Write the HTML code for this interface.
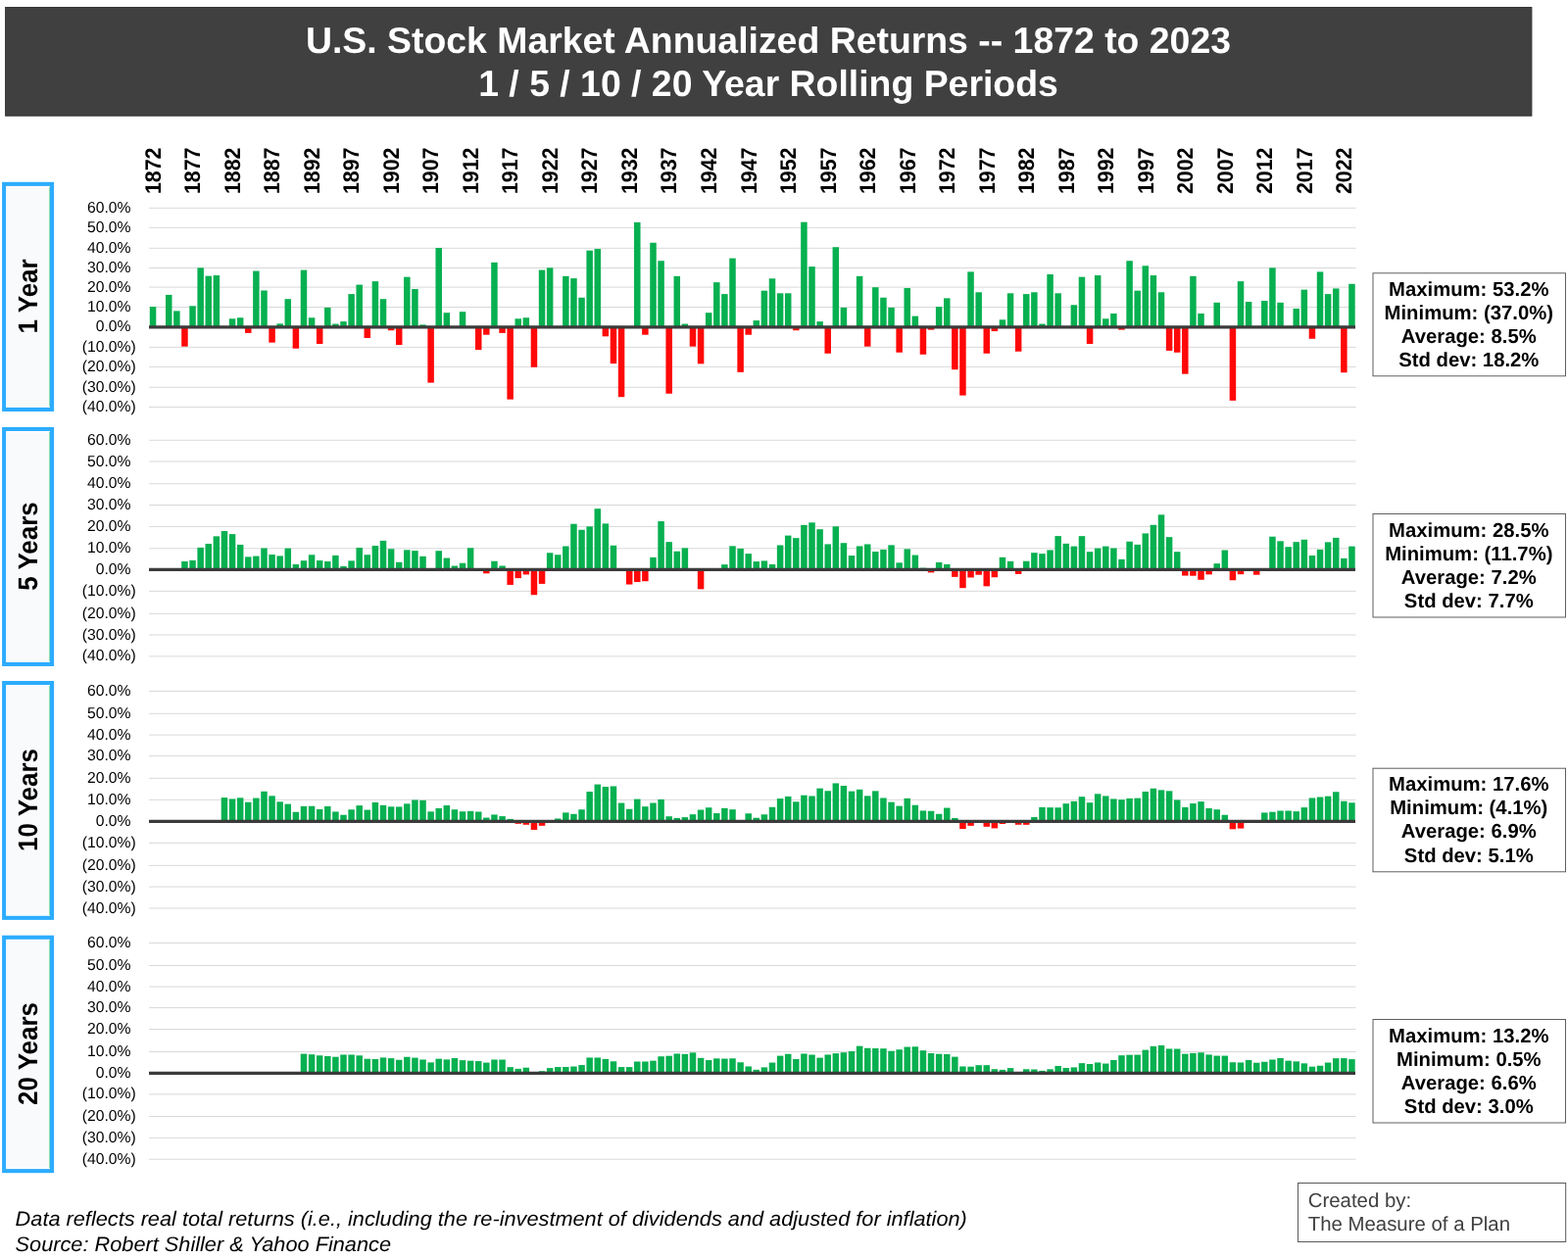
<!DOCTYPE html>
<html lang="en"><head><meta charset="utf-8"><title>U.S. Stock Market Annualized Returns -- 1872 to 2023</title>
<style>
html,body{margin:0;padding:0;background:#fff;}
body{width:1600px;height:1284px;overflow:hidden;}
svg{display:block;font-family:"Liberation Sans",Arial,Helvetica,sans-serif;text-rendering:geometricPrecision;}
.t{font-weight:bold;font-size:37.4px;fill:#fff;text-anchor:middle;}
.yr{font-weight:bold;font-size:21.4px;fill:#000;}
.yl{font-size:15.8px;fill:#000;text-anchor:end;}
.pl{font-weight:bold;font-size:25.95px;fill:#000;text-anchor:middle;}
.st{font-weight:bold;font-size:20.3px;fill:#000;text-anchor:middle;}
.ft{font-style:italic;font-size:20.95px;fill:#000;}
.cb{font-size:20.4px;fill:#404040;}
.g{stroke:#d9d9d9;stroke-width:1;}
.z{stroke:#3b3b3b;stroke-width:3.3;}
.up{fill:#07b050;}
.dn{fill:#ff0808;}
</style></head><body>
<svg width="1600" height="1284" viewBox="0 0 1600 1284">
<rect x="5.6" y="7.5" width="1557.3" height="110.7" fill="#404040" stroke="#353535" stroke-width="1"/>
<text class="t" x="784" y="53.6">U.S. Stock Market Annualized Returns -- 1872 to 2023</text>
<text class="t" x="784" y="98.1">1 / 5 / 10 / 20 Year Rolling Periods</text>
<text class="yr" transform="translate(163.85 198.1) rotate(-90) scale(1 1.06)">1872</text>
<text class="yr" transform="translate(204.36 198.1) rotate(-90) scale(1 1.06)">1877</text>
<text class="yr" transform="translate(244.87 198.1) rotate(-90) scale(1 1.06)">1882</text>
<text class="yr" transform="translate(285.38 198.1) rotate(-90) scale(1 1.06)">1887</text>
<text class="yr" transform="translate(325.89 198.1) rotate(-90) scale(1 1.06)">1892</text>
<text class="yr" transform="translate(366.40 198.1) rotate(-90) scale(1 1.06)">1897</text>
<text class="yr" transform="translate(406.91 198.1) rotate(-90) scale(1 1.06)">1902</text>
<text class="yr" transform="translate(447.42 198.1) rotate(-90) scale(1 1.06)">1907</text>
<text class="yr" transform="translate(487.93 198.1) rotate(-90) scale(1 1.06)">1912</text>
<text class="yr" transform="translate(528.44 198.1) rotate(-90) scale(1 1.06)">1917</text>
<text class="yr" transform="translate(568.95 198.1) rotate(-90) scale(1 1.06)">1922</text>
<text class="yr" transform="translate(609.46 198.1) rotate(-90) scale(1 1.06)">1927</text>
<text class="yr" transform="translate(649.97 198.1) rotate(-90) scale(1 1.06)">1932</text>
<text class="yr" transform="translate(690.48 198.1) rotate(-90) scale(1 1.06)">1937</text>
<text class="yr" transform="translate(730.99 198.1) rotate(-90) scale(1 1.06)">1942</text>
<text class="yr" transform="translate(771.50 198.1) rotate(-90) scale(1 1.06)">1947</text>
<text class="yr" transform="translate(812.01 198.1) rotate(-90) scale(1 1.06)">1952</text>
<text class="yr" transform="translate(852.52 198.1) rotate(-90) scale(1 1.06)">1957</text>
<text class="yr" transform="translate(893.03 198.1) rotate(-90) scale(1 1.06)">1962</text>
<text class="yr" transform="translate(933.54 198.1) rotate(-90) scale(1 1.06)">1967</text>
<text class="yr" transform="translate(974.05 198.1) rotate(-90) scale(1 1.06)">1972</text>
<text class="yr" transform="translate(1014.56 198.1) rotate(-90) scale(1 1.06)">1977</text>
<text class="yr" transform="translate(1055.07 198.1) rotate(-90) scale(1 1.06)">1982</text>
<text class="yr" transform="translate(1095.58 198.1) rotate(-90) scale(1 1.06)">1987</text>
<text class="yr" transform="translate(1136.09 198.1) rotate(-90) scale(1 1.06)">1992</text>
<text class="yr" transform="translate(1176.60 198.1) rotate(-90) scale(1 1.06)">1997</text>
<text class="yr" transform="translate(1217.11 198.1) rotate(-90) scale(1 1.06)">2002</text>
<text class="yr" transform="translate(1257.62 198.1) rotate(-90) scale(1 1.06)">2007</text>
<text class="yr" transform="translate(1298.13 198.1) rotate(-90) scale(1 1.06)">2012</text>
<text class="yr" transform="translate(1338.64 198.1) rotate(-90) scale(1 1.06)">2017</text>
<text class="yr" transform="translate(1379.15 198.1) rotate(-90) scale(1 1.06)">2022</text>
<rect x="2.1" y="185.8" width="53" height="234.2" fill="#2cacff"/>
<rect x="6.1" y="189.9" width="44.9" height="226.0" fill="#fff"/>
<rect x="49.9" y="190.8" width="1.1" height="224.2" fill="#8fdcae"/>
<rect x="7" y="191.0" width="41.8" height="224.0" fill="#f9fafc"/>
<text class="pl" transform="translate(38.2 302.4) rotate(-90) scale(1 1.07)">1 Year</text>
<line class="g" x1="152.0" x2="1383.5" y1="212.3" y2="212.3"/>
<text class="yl" transform="translate(133.45 216.80) scale(0.993 1)">60.0%</text>
<line class="g" x1="152.0" x2="1383.5" y1="232.3" y2="232.3"/>
<text class="yl" transform="translate(133.45 236.80) scale(0.993 1)">50.0%</text>
<line class="g" x1="152.0" x2="1383.5" y1="253.3" y2="253.3"/>
<text class="yl" transform="translate(133.45 257.80) scale(0.993 1)">40.0%</text>
<line class="g" x1="152.0" x2="1383.5" y1="273.5" y2="273.5"/>
<text class="yl" transform="translate(133.45 278.00) scale(0.993 1)">30.0%</text>
<line class="g" x1="152.0" x2="1383.5" y1="293.1" y2="293.1"/>
<text class="yl" transform="translate(133.45 297.60) scale(0.993 1)">20.0%</text>
<line class="g" x1="152.0" x2="1383.5" y1="313.5" y2="313.5"/>
<text class="yl" transform="translate(133.45 318.00) scale(0.993 1)">10.0%</text>
<text class="yl" transform="translate(133.45 338.30) scale(0.993 1)">0.0%</text>
<line class="g" x1="152.0" x2="1383.5" y1="354.4" y2="354.4"/>
<text class="yl" transform="translate(138.7 358.90) scale(0.993 1)">(10.0%)</text>
<line class="g" x1="152.0" x2="1383.5" y1="374.4" y2="374.4"/>
<text class="yl" transform="translate(138.7 378.90) scale(0.993 1)">(20.0%)</text>
<line class="g" x1="152.0" x2="1383.5" y1="395.3" y2="395.3"/>
<text class="yl" transform="translate(138.7 399.80) scale(0.993 1)">(30.0%)</text>
<line class="g" x1="152.0" x2="1383.5" y1="415.5" y2="415.5"/>
<text class="yl" transform="translate(138.7 420.00) scale(0.993 1)">(40.0%)</text>
<rect class="up" x="152.80" y="313.10" width="6.5" height="20.70"/>
<rect class="up" x="169.00" y="300.93" width="6.5" height="32.87"/>
<rect class="up" x="177.11" y="317.37" width="6.5" height="16.43"/>
<rect class="dn" x="185.21" y="333.80" width="6.5" height="19.88"/>
<rect class="up" x="193.31" y="312.29" width="6.5" height="21.51"/>
<rect class="up" x="201.41" y="273.34" width="6.5" height="60.46"/>
<rect class="up" x="209.51" y="281.65" width="6.5" height="52.15"/>
<rect class="up" x="217.62" y="281.05" width="6.5" height="52.75"/>
<rect class="up" x="233.82" y="325.28" width="6.5" height="8.52"/>
<rect class="up" x="241.92" y="324.26" width="6.5" height="9.54"/>
<rect class="dn" x="250.02" y="333.80" width="6.5" height="6.09"/>
<rect class="up" x="258.13" y="276.58" width="6.5" height="57.22"/>
<rect class="up" x="266.23" y="296.47" width="6.5" height="37.33"/>
<rect class="dn" x="274.33" y="333.80" width="6.5" height="15.83"/>
<rect class="up" x="282.43" y="330.35" width="6.5" height="3.45"/>
<rect class="up" x="290.53" y="305.19" width="6.5" height="28.61"/>
<rect class="dn" x="298.64" y="333.80" width="6.5" height="21.91"/>
<rect class="up" x="306.74" y="275.57" width="6.5" height="58.23"/>
<rect class="up" x="314.84" y="324.26" width="6.5" height="9.54"/>
<rect class="dn" x="322.94" y="333.80" width="6.5" height="17.25"/>
<rect class="up" x="331.04" y="313.92" width="6.5" height="19.88"/>
<rect class="up" x="339.15" y="330.55" width="6.5" height="3.25"/>
<rect class="up" x="347.25" y="328.12" width="6.5" height="5.68"/>
<rect class="up" x="355.35" y="300.12" width="6.5" height="33.68"/>
<rect class="up" x="363.45" y="290.58" width="6.5" height="43.22"/>
<rect class="dn" x="371.55" y="333.80" width="6.5" height="11.16"/>
<rect class="up" x="379.66" y="287.13" width="6.5" height="46.67"/>
<rect class="up" x="387.76" y="305.19" width="6.5" height="28.61"/>
<rect class="dn" x="395.86" y="333.80" width="6.5" height="3.45"/>
<rect class="dn" x="403.96" y="333.80" width="6.5" height="18.26"/>
<rect class="up" x="412.06" y="282.67" width="6.5" height="51.13"/>
<rect class="up" x="420.17" y="295.05" width="6.5" height="38.75"/>
<rect class="up" x="428.27" y="331.37" width="6.5" height="2.43"/>
<rect class="dn" x="436.37" y="333.80" width="6.5" height="56.81"/>
<rect class="up" x="444.47" y="253.05" width="6.5" height="80.75"/>
<rect class="up" x="452.57" y="319.19" width="6.5" height="14.61"/>
<rect class="up" x="468.78" y="318.18" width="6.5" height="15.62"/>
<rect class="dn" x="484.98" y="333.80" width="6.5" height="23.33"/>
<rect class="dn" x="493.08" y="333.80" width="6.5" height="7.91"/>
<rect class="up" x="501.19" y="267.86" width="6.5" height="65.94"/>
<rect class="dn" x="509.29" y="333.80" width="6.5" height="6.09"/>
<rect class="dn" x="517.39" y="333.80" width="6.5" height="73.86"/>
<rect class="up" x="525.49" y="325.28" width="6.5" height="8.52"/>
<rect class="up" x="533.59" y="324.26" width="6.5" height="9.54"/>
<rect class="dn" x="541.70" y="333.80" width="6.5" height="40.99"/>
<rect class="up" x="549.80" y="275.57" width="6.5" height="58.23"/>
<rect class="up" x="557.90" y="273.34" width="6.5" height="60.46"/>
<rect class="up" x="574.10" y="281.86" width="6.5" height="51.94"/>
<rect class="up" x="582.21" y="284.09" width="6.5" height="49.71"/>
<rect class="up" x="590.31" y="303.77" width="6.5" height="30.03"/>
<rect class="up" x="598.41" y="255.68" width="6.5" height="78.12"/>
<rect class="up" x="606.51" y="254.06" width="6.5" height="79.74"/>
<rect class="dn" x="614.61" y="333.80" width="6.5" height="9.54"/>
<rect class="dn" x="622.72" y="333.80" width="6.5" height="37.33"/>
<rect class="dn" x="630.82" y="333.80" width="6.5" height="71.42"/>
<rect class="up" x="647.02" y="226.87" width="6.5" height="106.93"/>
<rect class="dn" x="655.12" y="333.80" width="6.5" height="7.91"/>
<rect class="up" x="663.23" y="247.77" width="6.5" height="86.03"/>
<rect class="up" x="671.33" y="266.23" width="6.5" height="67.57"/>
<rect class="dn" x="679.43" y="333.80" width="6.5" height="67.97"/>
<rect class="up" x="687.53" y="281.86" width="6.5" height="51.94"/>
<rect class="up" x="695.63" y="330.55" width="6.5" height="3.25"/>
<rect class="dn" x="703.74" y="333.80" width="6.5" height="19.88"/>
<rect class="dn" x="711.84" y="333.80" width="6.5" height="37.54"/>
<rect class="up" x="719.94" y="319.19" width="6.5" height="14.61"/>
<rect class="up" x="728.04" y="288.15" width="6.5" height="45.65"/>
<rect class="up" x="736.14" y="300.12" width="6.5" height="33.68"/>
<rect class="up" x="744.25" y="263.60" width="6.5" height="70.20"/>
<rect class="dn" x="752.35" y="333.80" width="6.5" height="46.06"/>
<rect class="dn" x="760.45" y="333.80" width="6.5" height="7.91"/>
<rect class="up" x="768.55" y="327.10" width="6.5" height="6.70"/>
<rect class="up" x="776.65" y="296.67" width="6.5" height="37.13"/>
<rect class="up" x="784.75" y="284.29" width="6.5" height="49.51"/>
<rect class="up" x="792.86" y="299.31" width="6.5" height="34.49"/>
<rect class="up" x="800.96" y="299.31" width="6.5" height="34.49"/>
<rect class="dn" x="809.06" y="333.80" width="6.5" height="3.45"/>
<rect class="up" x="817.16" y="226.67" width="6.5" height="107.13"/>
<rect class="up" x="825.26" y="272.12" width="6.5" height="61.68"/>
<rect class="up" x="833.37" y="328.12" width="6.5" height="5.68"/>
<rect class="dn" x="841.47" y="333.80" width="6.5" height="26.99"/>
<rect class="up" x="849.57" y="252.23" width="6.5" height="81.57"/>
<rect class="up" x="857.67" y="313.92" width="6.5" height="19.88"/>
<rect class="up" x="873.88" y="281.86" width="6.5" height="51.94"/>
<rect class="dn" x="881.98" y="333.80" width="6.5" height="19.88"/>
<rect class="up" x="890.08" y="293.22" width="6.5" height="40.58"/>
<rect class="up" x="898.18" y="303.77" width="6.5" height="30.03"/>
<rect class="up" x="906.28" y="313.92" width="6.5" height="19.88"/>
<rect class="dn" x="914.39" y="333.80" width="6.5" height="25.97"/>
<rect class="up" x="922.49" y="294.03" width="6.5" height="39.77"/>
<rect class="up" x="930.59" y="322.64" width="6.5" height="11.16"/>
<rect class="dn" x="938.69" y="333.80" width="6.5" height="28.00"/>
<rect class="dn" x="946.79" y="333.80" width="6.5" height="2.84"/>
<rect class="up" x="954.90" y="313.10" width="6.5" height="20.70"/>
<rect class="up" x="963.00" y="304.38" width="6.5" height="29.42"/>
<rect class="dn" x="971.10" y="333.80" width="6.5" height="43.42"/>
<rect class="dn" x="979.20" y="333.80" width="6.5" height="69.80"/>
<rect class="up" x="987.30" y="277.39" width="6.5" height="56.41"/>
<rect class="up" x="995.41" y="298.29" width="6.5" height="35.51"/>
<rect class="dn" x="1003.51" y="333.80" width="6.5" height="26.99"/>
<rect class="dn" x="1011.61" y="333.80" width="6.5" height="4.26"/>
<rect class="up" x="1019.71" y="326.29" width="6.5" height="7.51"/>
<rect class="up" x="1027.81" y="299.31" width="6.5" height="34.49"/>
<rect class="dn" x="1035.92" y="333.80" width="6.5" height="24.96"/>
<rect class="up" x="1044.02" y="300.12" width="6.5" height="33.68"/>
<rect class="up" x="1052.12" y="298.29" width="6.5" height="35.51"/>
<rect class="up" x="1060.22" y="330.55" width="6.5" height="3.25"/>
<rect class="up" x="1068.32" y="280.03" width="6.5" height="53.77"/>
<rect class="up" x="1076.43" y="299.31" width="6.5" height="34.49"/>
<rect class="up" x="1092.63" y="311.28" width="6.5" height="22.52"/>
<rect class="up" x="1100.73" y="282.67" width="6.5" height="51.13"/>
<rect class="dn" x="1108.83" y="333.80" width="6.5" height="17.25"/>
<rect class="up" x="1116.94" y="281.05" width="6.5" height="52.75"/>
<rect class="up" x="1125.04" y="325.28" width="6.5" height="8.52"/>
<rect class="up" x="1133.14" y="320.00" width="6.5" height="13.80"/>
<rect class="dn" x="1141.24" y="333.80" width="6.5" height="2.84"/>
<rect class="up" x="1149.34" y="266.23" width="6.5" height="67.57"/>
<rect class="up" x="1157.45" y="296.67" width="6.5" height="37.13"/>
<rect class="up" x="1165.55" y="271.31" width="6.5" height="62.49"/>
<rect class="up" x="1173.65" y="281.05" width="6.5" height="52.75"/>
<rect class="up" x="1181.75" y="298.29" width="6.5" height="35.51"/>
<rect class="dn" x="1189.85" y="333.80" width="6.5" height="24.15"/>
<rect class="dn" x="1197.96" y="333.80" width="6.5" height="25.97"/>
<rect class="dn" x="1206.06" y="333.80" width="6.5" height="47.88"/>
<rect class="up" x="1214.16" y="281.86" width="6.5" height="51.94"/>
<rect class="up" x="1222.26" y="320.00" width="6.5" height="13.80"/>
<rect class="up" x="1238.47" y="308.84" width="6.5" height="24.96"/>
<rect class="dn" x="1254.67" y="333.80" width="6.5" height="75.07"/>
<rect class="up" x="1262.77" y="287.13" width="6.5" height="46.67"/>
<rect class="up" x="1270.87" y="308.03" width="6.5" height="25.77"/>
<rect class="up" x="1287.08" y="307.02" width="6.5" height="26.78"/>
<rect class="up" x="1295.18" y="273.34" width="6.5" height="60.46"/>
<rect class="up" x="1303.28" y="308.84" width="6.5" height="24.96"/>
<rect class="up" x="1319.49" y="314.93" width="6.5" height="18.87"/>
<rect class="up" x="1327.59" y="295.65" width="6.5" height="38.15"/>
<rect class="dn" x="1335.69" y="333.80" width="6.5" height="11.97"/>
<rect class="up" x="1343.79" y="277.39" width="6.5" height="56.41"/>
<rect class="up" x="1351.89" y="300.12" width="6.5" height="33.68"/>
<rect class="up" x="1360.00" y="294.44" width="6.5" height="39.36"/>
<rect class="dn" x="1368.10" y="333.80" width="6.5" height="46.46"/>
<rect class="up" x="1376.20" y="289.77" width="6.5" height="44.03"/>
<line class="z" x1="152.0" x2="1383.0" y1="333.80" y2="333.80"/>
<rect x="1401" y="278.8" width="196.5" height="105.0" fill="#fff" stroke="#5f5f5f" stroke-width="1"/>
<text class="st" x="1498.8" y="301.7">Maximum: 53.2%</text>
<text class="st" x="1498.8" y="325.8">Minimum: (37.0%)</text>
<text class="st" x="1498.8" y="349.9">Average: 8.5%</text>
<text class="st" x="1498.8" y="374.0">Std dev: 18.2%</text>
<rect x="2.1" y="435.9" width="53" height="244.1" fill="#2cacff"/>
<rect x="6.1" y="440.0" width="44.9" height="235.9" fill="#fff"/>
<rect x="49.9" y="440.9" width="1.1" height="234.1" fill="#8fdcae"/>
<rect x="7" y="441.1" width="41.8" height="233.9" fill="#f9fafc"/>
<text class="pl" transform="translate(38.2 557.5) rotate(-90) scale(1 1.07)">5 Years</text>
<line class="g" x1="152.0" x2="1383.5" y1="449.3" y2="449.3"/>
<text class="yl" transform="translate(133.45 453.80) scale(0.993 1)">60.0%</text>
<line class="g" x1="152.0" x2="1383.5" y1="471.0" y2="471.0"/>
<text class="yl" transform="translate(133.45 475.50) scale(0.993 1)">50.0%</text>
<line class="g" x1="152.0" x2="1383.5" y1="493.8" y2="493.8"/>
<text class="yl" transform="translate(133.45 498.30) scale(0.993 1)">40.0%</text>
<line class="g" x1="152.0" x2="1383.5" y1="515.5" y2="515.5"/>
<text class="yl" transform="translate(133.45 520.00) scale(0.993 1)">30.0%</text>
<line class="g" x1="152.0" x2="1383.5" y1="537.4" y2="537.4"/>
<text class="yl" transform="translate(133.45 541.90) scale(0.993 1)">20.0%</text>
<line class="g" x1="152.0" x2="1383.5" y1="559.8" y2="559.8"/>
<text class="yl" transform="translate(133.45 564.30) scale(0.993 1)">10.0%</text>
<text class="yl" transform="translate(133.45 585.60) scale(0.993 1)">0.0%</text>
<line class="g" x1="152.0" x2="1383.5" y1="603.4" y2="603.4"/>
<text class="yl" transform="translate(138.7 607.90) scale(0.993 1)">(10.0%)</text>
<line class="g" x1="152.0" x2="1383.5" y1="626.4" y2="626.4"/>
<text class="yl" transform="translate(138.7 630.90) scale(0.993 1)">(20.0%)</text>
<line class="g" x1="152.0" x2="1383.5" y1="648.0" y2="648.0"/>
<text class="yl" transform="translate(138.7 652.50) scale(0.993 1)">(30.0%)</text>
<line class="g" x1="152.0" x2="1383.5" y1="669.9" y2="669.9"/>
<text class="yl" transform="translate(138.7 674.40) scale(0.993 1)">(40.0%)</text>
<rect class="up" x="185.21" y="572.97" width="6.5" height="8.48"/>
<rect class="up" x="193.31" y="571.92" width="6.5" height="9.53"/>
<rect class="up" x="201.41" y="558.90" width="6.5" height="22.55"/>
<rect class="up" x="209.51" y="555.04" width="6.5" height="26.41"/>
<rect class="up" x="217.62" y="547.36" width="6.5" height="34.09"/>
<rect class="up" x="225.72" y="542.04" width="6.5" height="39.41"/>
<rect class="up" x="233.82" y="545.13" width="6.5" height="36.32"/>
<rect class="up" x="241.92" y="555.94" width="6.5" height="25.51"/>
<rect class="up" x="250.02" y="568.38" width="6.5" height="13.07"/>
<rect class="up" x="258.13" y="567.57" width="6.5" height="13.88"/>
<rect class="up" x="266.23" y="559.51" width="6.5" height="21.94"/>
<rect class="up" x="274.33" y="566.03" width="6.5" height="15.42"/>
<rect class="up" x="282.43" y="567.41" width="6.5" height="14.04"/>
<rect class="up" x="290.53" y="559.64" width="6.5" height="21.81"/>
<rect class="up" x="298.64" y="575.99" width="6.5" height="5.46"/>
<rect class="up" x="306.74" y="572.19" width="6.5" height="9.26"/>
<rect class="up" x="314.84" y="566.26" width="6.5" height="15.19"/>
<rect class="up" x="322.94" y="572.08" width="6.5" height="9.37"/>
<rect class="up" x="331.04" y="572.97" width="6.5" height="8.48"/>
<rect class="up" x="339.15" y="566.92" width="6.5" height="14.53"/>
<rect class="up" x="347.25" y="577.92" width="6.5" height="3.53"/>
<rect class="up" x="355.35" y="572.36" width="6.5" height="9.09"/>
<rect class="up" x="363.45" y="559.03" width="6.5" height="22.42"/>
<rect class="up" x="371.55" y="566.22" width="6.5" height="15.23"/>
<rect class="up" x="379.66" y="557.03" width="6.5" height="24.42"/>
<rect class="up" x="387.76" y="551.86" width="6.5" height="29.59"/>
<rect class="up" x="395.86" y="560.26" width="6.5" height="21.19"/>
<rect class="up" x="403.96" y="573.78" width="6.5" height="7.67"/>
<rect class="up" x="412.06" y="561.33" width="6.5" height="20.12"/>
<rect class="up" x="420.17" y="562.11" width="6.5" height="19.34"/>
<rect class="up" x="428.27" y="567.80" width="6.5" height="13.65"/>
<rect class="dn" x="436.37" y="581.45" width="6.5" height="0.50"/>
<rect class="up" x="444.47" y="562.21" width="6.5" height="19.24"/>
<rect class="up" x="452.57" y="569.54" width="6.5" height="11.91"/>
<rect class="up" x="460.68" y="577.53" width="6.5" height="3.92"/>
<rect class="up" x="468.78" y="574.72" width="6.5" height="6.73"/>
<rect class="up" x="476.88" y="559.27" width="6.5" height="22.18"/>
<rect class="up" x="484.98" y="580.50" width="6.5" height="0.95"/>
<rect class="dn" x="493.08" y="581.45" width="6.5" height="3.84"/>
<rect class="up" x="501.19" y="572.73" width="6.5" height="8.72"/>
<rect class="up" x="509.29" y="577.49" width="6.5" height="3.96"/>
<rect class="dn" x="517.39" y="581.45" width="6.5" height="15.48"/>
<rect class="dn" x="525.49" y="581.45" width="6.5" height="8.66"/>
<rect class="dn" x="533.59" y="581.45" width="6.5" height="5.00"/>
<rect class="dn" x="541.70" y="581.45" width="6.5" height="25.80"/>
<rect class="dn" x="549.80" y="581.45" width="6.5" height="14.46"/>
<rect class="up" x="557.90" y="564.28" width="6.5" height="17.17"/>
<rect class="up" x="566.00" y="566.23" width="6.5" height="15.22"/>
<rect class="up" x="574.10" y="557.49" width="6.5" height="23.96"/>
<rect class="up" x="582.21" y="534.72" width="6.5" height="46.73"/>
<rect class="up" x="590.31" y="540.77" width="6.5" height="40.68"/>
<rect class="up" x="598.41" y="537.35" width="6.5" height="44.10"/>
<rect class="up" x="606.51" y="519.20" width="6.5" height="62.25"/>
<rect class="up" x="614.61" y="534.40" width="6.5" height="47.05"/>
<rect class="up" x="622.72" y="556.76" width="6.5" height="24.69"/>
<rect class="dn" x="630.82" y="581.45" width="6.5" height="1.24"/>
<rect class="dn" x="638.92" y="581.45" width="6.5" height="15.08"/>
<rect class="dn" x="647.02" y="581.45" width="6.5" height="12.59"/>
<rect class="dn" x="655.12" y="581.45" width="6.5" height="11.80"/>
<rect class="up" x="663.23" y="568.87" width="6.5" height="12.58"/>
<rect class="up" x="671.33" y="532.04" width="6.5" height="49.41"/>
<rect class="up" x="679.43" y="553.15" width="6.5" height="28.30"/>
<rect class="up" x="687.53" y="562.72" width="6.5" height="18.73"/>
<rect class="up" x="695.63" y="559.37" width="6.5" height="22.08"/>
<rect class="up" x="703.74" y="580.56" width="6.5" height="0.89"/>
<rect class="dn" x="711.84" y="581.45" width="6.5" height="19.88"/>
<rect class="up" x="719.94" y="581.20" width="6.5" height="0.25"/>
<rect class="dn" x="728.04" y="581.45" width="6.5" height="0.85"/>
<rect class="up" x="736.14" y="576.16" width="6.5" height="5.29"/>
<rect class="up" x="744.25" y="557.33" width="6.5" height="24.12"/>
<rect class="up" x="752.35" y="559.91" width="6.5" height="21.54"/>
<rect class="up" x="760.45" y="565.14" width="6.5" height="16.31"/>
<rect class="up" x="768.55" y="573.09" width="6.5" height="8.36"/>
<rect class="up" x="776.65" y="572.42" width="6.5" height="9.03"/>
<rect class="up" x="784.75" y="576.02" width="6.5" height="5.43"/>
<rect class="up" x="792.86" y="556.47" width="6.5" height="24.98"/>
<rect class="up" x="800.96" y="546.61" width="6.5" height="34.84"/>
<rect class="up" x="809.06" y="549.13" width="6.5" height="32.32"/>
<rect class="up" x="817.16" y="535.85" width="6.5" height="45.60"/>
<rect class="up" x="825.26" y="533.33" width="6.5" height="48.12"/>
<rect class="up" x="833.37" y="540.19" width="6.5" height="41.26"/>
<rect class="up" x="841.47" y="555.43" width="6.5" height="26.02"/>
<rect class="up" x="849.57" y="537.28" width="6.5" height="44.17"/>
<rect class="up" x="857.67" y="554.22" width="6.5" height="27.23"/>
<rect class="up" x="865.77" y="567.04" width="6.5" height="14.41"/>
<rect class="up" x="873.88" y="557.43" width="6.5" height="24.02"/>
<rect class="up" x="881.98" y="555.48" width="6.5" height="25.97"/>
<rect class="up" x="890.08" y="563.04" width="6.5" height="18.41"/>
<rect class="up" x="898.18" y="560.90" width="6.5" height="20.55"/>
<rect class="up" x="906.28" y="556.35" width="6.5" height="25.10"/>
<rect class="up" x="914.39" y="574.31" width="6.5" height="7.14"/>
<rect class="up" x="922.49" y="560.38" width="6.5" height="21.07"/>
<rect class="up" x="930.59" y="566.53" width="6.5" height="14.92"/>
<rect class="up" x="938.69" y="579.65" width="6.5" height="1.80"/>
<rect class="dn" x="946.79" y="581.45" width="6.5" height="2.94"/>
<rect class="up" x="954.90" y="573.95" width="6.5" height="7.50"/>
<rect class="up" x="963.00" y="575.93" width="6.5" height="5.52"/>
<rect class="dn" x="971.10" y="581.45" width="6.5" height="7.41"/>
<rect class="dn" x="979.20" y="581.45" width="6.5" height="18.75"/>
<rect class="dn" x="987.30" y="581.45" width="6.5" height="8.00"/>
<rect class="dn" x="995.41" y="581.45" width="6.5" height="5.25"/>
<rect class="dn" x="1003.51" y="581.45" width="6.5" height="16.91"/>
<rect class="dn" x="1011.61" y="581.45" width="6.5" height="7.76"/>
<rect class="up" x="1019.71" y="568.79" width="6.5" height="12.66"/>
<rect class="up" x="1027.81" y="572.87" width="6.5" height="8.58"/>
<rect class="dn" x="1035.92" y="581.45" width="6.5" height="4.45"/>
<rect class="up" x="1044.02" y="572.70" width="6.5" height="8.75"/>
<rect class="up" x="1052.12" y="564.17" width="6.5" height="17.28"/>
<rect class="up" x="1060.22" y="565.14" width="6.5" height="16.31"/>
<rect class="up" x="1068.32" y="561.41" width="6.5" height="20.04"/>
<rect class="up" x="1076.43" y="547.12" width="6.5" height="34.33"/>
<rect class="up" x="1084.53" y="554.84" width="6.5" height="26.61"/>
<rect class="up" x="1092.63" y="557.59" width="6.5" height="23.86"/>
<rect class="up" x="1100.73" y="547.16" width="6.5" height="34.29"/>
<rect class="up" x="1108.83" y="563.16" width="6.5" height="18.29"/>
<rect class="up" x="1116.94" y="559.59" width="6.5" height="21.86"/>
<rect class="up" x="1125.04" y="557.58" width="6.5" height="23.87"/>
<rect class="up" x="1133.14" y="559.51" width="6.5" height="21.94"/>
<rect class="up" x="1141.24" y="570.82" width="6.5" height="10.63"/>
<rect class="up" x="1149.34" y="552.74" width="6.5" height="28.71"/>
<rect class="up" x="1157.45" y="555.87" width="6.5" height="25.58"/>
<rect class="up" x="1165.55" y="544.41" width="6.5" height="37.04"/>
<rect class="up" x="1173.65" y="535.75" width="6.5" height="45.70"/>
<rect class="up" x="1181.75" y="525.36" width="6.5" height="56.09"/>
<rect class="up" x="1189.85" y="548.17" width="6.5" height="33.28"/>
<rect class="up" x="1197.96" y="563.20" width="6.5" height="18.25"/>
<rect class="dn" x="1206.06" y="581.45" width="6.5" height="6.11"/>
<rect class="dn" x="1214.16" y="581.45" width="6.5" height="6.25"/>
<rect class="dn" x="1222.26" y="581.45" width="6.5" height="10.31"/>
<rect class="dn" x="1230.36" y="581.45" width="6.5" height="4.91"/>
<rect class="up" x="1238.47" y="575.16" width="6.5" height="6.29"/>
<rect class="up" x="1246.57" y="561.50" width="6.5" height="19.95"/>
<rect class="dn" x="1254.67" y="581.45" width="6.5" height="10.82"/>
<rect class="dn" x="1262.77" y="581.45" width="6.5" height="4.73"/>
<rect class="dn" x="1270.87" y="581.45" width="6.5" height="0.86"/>
<rect class="dn" x="1278.98" y="581.45" width="6.5" height="5.24"/>
<rect class="dn" x="1287.08" y="581.45" width="6.5" height="0.51"/>
<rect class="up" x="1295.18" y="547.71" width="6.5" height="33.74"/>
<rect class="up" x="1303.28" y="552.30" width="6.5" height="29.15"/>
<rect class="up" x="1311.38" y="558.20" width="6.5" height="23.25"/>
<rect class="up" x="1319.49" y="553.16" width="6.5" height="28.29"/>
<rect class="up" x="1327.59" y="550.75" width="6.5" height="30.70"/>
<rect class="up" x="1335.69" y="567.03" width="6.5" height="14.42"/>
<rect class="up" x="1343.79" y="560.87" width="6.5" height="20.58"/>
<rect class="up" x="1351.89" y="553.35" width="6.5" height="28.10"/>
<rect class="up" x="1360.00" y="548.91" width="6.5" height="32.54"/>
<rect class="up" x="1368.10" y="569.89" width="6.5" height="11.56"/>
<rect class="up" x="1376.20" y="557.63" width="6.5" height="23.82"/>
<line class="z" x1="152.0" x2="1383.0" y1="581.45" y2="581.45"/>
<rect x="1401" y="524.5" width="196.5" height="105.5" fill="#fff" stroke="#5f5f5f" stroke-width="1"/>
<text class="st" x="1498.8" y="548.0">Maximum: 28.5%</text>
<text class="st" x="1498.8" y="572.1">Minimum: (11.7%)</text>
<text class="st" x="1498.8" y="596.3">Average: 7.2%</text>
<text class="st" x="1498.8" y="620.4">Std dev: 7.7%</text>
<rect x="2.1" y="695.0" width="53" height="243.9" fill="#2cacff"/>
<rect x="6.1" y="699.1" width="44.9" height="235.7" fill="#fff"/>
<rect x="49.9" y="700.0" width="1.1" height="233.9" fill="#8fdcae"/>
<rect x="7" y="700.2" width="41.8" height="233.7" fill="#f9fafc"/>
<text class="pl" transform="translate(38.2 816.5) rotate(-90) scale(1 1.07)">10 Years</text>
<line class="g" x1="152.0" x2="1383.5" y1="705.5" y2="705.5"/>
<text class="yl" transform="translate(133.45 710.00) scale(0.993 1)">60.0%</text>
<line class="g" x1="152.0" x2="1383.5" y1="728.3" y2="728.3"/>
<text class="yl" transform="translate(133.45 732.80) scale(0.993 1)">50.0%</text>
<line class="g" x1="152.0" x2="1383.5" y1="750.1" y2="750.1"/>
<text class="yl" transform="translate(133.45 754.60) scale(0.993 1)">40.0%</text>
<line class="g" x1="152.0" x2="1383.5" y1="771.6" y2="771.6"/>
<text class="yl" transform="translate(133.45 776.10) scale(0.993 1)">30.0%</text>
<line class="g" x1="152.0" x2="1383.5" y1="794.3" y2="794.3"/>
<text class="yl" transform="translate(133.45 798.80) scale(0.993 1)">20.0%</text>
<line class="g" x1="152.0" x2="1383.5" y1="816.3" y2="816.3"/>
<text class="yl" transform="translate(133.45 820.80) scale(0.993 1)">10.0%</text>
<text class="yl" transform="translate(133.45 842.90) scale(0.993 1)">0.0%</text>
<line class="g" x1="152.0" x2="1383.5" y1="860.4" y2="860.4"/>
<text class="yl" transform="translate(138.7 864.90) scale(0.993 1)">(10.0%)</text>
<line class="g" x1="152.0" x2="1383.5" y1="883.4" y2="883.4"/>
<text class="yl" transform="translate(138.7 887.90) scale(0.993 1)">(20.0%)</text>
<line class="g" x1="152.0" x2="1383.5" y1="905.1" y2="905.1"/>
<text class="yl" transform="translate(138.7 909.60) scale(0.993 1)">(30.0%)</text>
<line class="g" x1="152.0" x2="1383.5" y1="927.0" y2="927.0"/>
<text class="yl" transform="translate(138.7 931.50) scale(0.993 1)">(40.0%)</text>
<rect class="up" x="225.72" y="814.07" width="6.5" height="24.38"/>
<rect class="up" x="233.82" y="815.44" width="6.5" height="23.01"/>
<rect class="up" x="241.92" y="814.31" width="6.5" height="24.14"/>
<rect class="up" x="250.02" y="818.71" width="6.5" height="19.74"/>
<rect class="up" x="258.13" y="814.56" width="6.5" height="23.89"/>
<rect class="up" x="266.23" y="807.79" width="6.5" height="30.66"/>
<rect class="up" x="274.33" y="812.34" width="6.5" height="26.11"/>
<rect class="up" x="282.43" y="818.31" width="6.5" height="20.14"/>
<rect class="up" x="290.53" y="820.64" width="6.5" height="17.81"/>
<rect class="up" x="298.64" y="828.77" width="6.5" height="9.68"/>
<rect class="up" x="306.74" y="822.86" width="6.5" height="15.59"/>
<rect class="up" x="314.84" y="822.75" width="6.5" height="15.70"/>
<rect class="up" x="322.94" y="825.93" width="6.5" height="12.52"/>
<rect class="up" x="331.04" y="823.00" width="6.5" height="15.45"/>
<rect class="up" x="339.15" y="828.46" width="6.5" height="9.99"/>
<rect class="up" x="347.25" y="831.71" width="6.5" height="6.74"/>
<rect class="up" x="355.35" y="826.28" width="6.5" height="12.17"/>
<rect class="up" x="363.45" y="822.12" width="6.5" height="16.33"/>
<rect class="up" x="371.55" y="826.57" width="6.5" height="11.88"/>
<rect class="up" x="379.66" y="818.94" width="6.5" height="19.51"/>
<rect class="up" x="387.76" y="821.83" width="6.5" height="16.62"/>
<rect class="up" x="395.86" y="823.32" width="6.5" height="15.13"/>
<rect class="up" x="403.96" y="823.45" width="6.5" height="15.00"/>
<rect class="up" x="412.06" y="820.33" width="6.5" height="18.12"/>
<rect class="up" x="420.17" y="816.48" width="6.5" height="21.97"/>
<rect class="up" x="428.27" y="816.87" width="6.5" height="21.58"/>
<rect class="up" x="436.37" y="828.32" width="6.5" height="10.13"/>
<rect class="up" x="444.47" y="825.00" width="6.5" height="13.45"/>
<rect class="up" x="452.57" y="822.02" width="6.5" height="16.43"/>
<rect class="up" x="460.68" y="826.23" width="6.5" height="12.22"/>
<rect class="up" x="468.78" y="828.24" width="6.5" height="10.21"/>
<rect class="up" x="476.88" y="827.84" width="6.5" height="10.61"/>
<rect class="up" x="484.98" y="828.49" width="6.5" height="9.96"/>
<rect class="up" x="493.08" y="834.54" width="6.5" height="3.91"/>
<rect class="up" x="501.19" y="831.45" width="6.5" height="7.00"/>
<rect class="up" x="509.29" y="833.08" width="6.5" height="5.37"/>
<rect class="up" x="517.39" y="835.88" width="6.5" height="2.57"/>
<rect class="dn" x="525.49" y="838.45" width="6.5" height="2.37"/>
<rect class="dn" x="533.59" y="838.45" width="6.5" height="3.33"/>
<rect class="dn" x="541.70" y="838.45" width="6.5" height="8.51"/>
<rect class="dn" x="549.80" y="838.45" width="6.5" height="4.36"/>
<rect class="up" x="557.90" y="838.21" width="6.5" height="0.24"/>
<rect class="up" x="566.00" y="835.48" width="6.5" height="2.97"/>
<rect class="up" x="574.10" y="829.38" width="6.5" height="9.07"/>
<rect class="up" x="582.21" y="830.81" width="6.5" height="7.64"/>
<rect class="up" x="590.31" y="826.25" width="6.5" height="12.20"/>
<rect class="up" x="598.41" y="808.04" width="6.5" height="30.41"/>
<rect class="up" x="606.51" y="800.61" width="6.5" height="37.84"/>
<rect class="up" x="614.61" y="803.04" width="6.5" height="35.41"/>
<rect class="up" x="622.72" y="802.47" width="6.5" height="35.98"/>
<rect class="up" x="630.82" y="819.56" width="6.5" height="18.89"/>
<rect class="up" x="638.92" y="825.75" width="6.5" height="12.70"/>
<rect class="up" x="647.02" y="815.62" width="6.5" height="22.83"/>
<rect class="up" x="655.12" y="823.19" width="6.5" height="15.26"/>
<rect class="up" x="663.23" y="819.52" width="6.5" height="18.93"/>
<rect class="up" x="671.33" y="815.89" width="6.5" height="22.56"/>
<rect class="up" x="679.43" y="833.22" width="6.5" height="5.23"/>
<rect class="up" x="687.53" y="834.90" width="6.5" height="3.55"/>
<rect class="up" x="695.63" y="834.11" width="6.5" height="4.34"/>
<rect class="up" x="703.74" y="831.17" width="6.5" height="7.28"/>
<rect class="up" x="711.84" y="826.52" width="6.5" height="11.93"/>
<rect class="up" x="719.94" y="824.22" width="6.5" height="14.23"/>
<rect class="up" x="728.04" y="830.03" width="6.5" height="8.42"/>
<rect class="up" x="736.14" y="824.86" width="6.5" height="13.59"/>
<rect class="up" x="744.25" y="826.18" width="6.5" height="12.27"/>
<rect class="dn" x="752.35" y="838.45" width="6.5" height="0.14"/>
<rect class="up" x="760.45" y="830.28" width="6.5" height="8.17"/>
<rect class="up" x="768.55" y="834.73" width="6.5" height="3.72"/>
<rect class="up" x="776.65" y="831.27" width="6.5" height="7.18"/>
<rect class="up" x="784.75" y="823.79" width="6.5" height="14.66"/>
<rect class="up" x="792.86" y="815.09" width="6.5" height="23.36"/>
<rect class="up" x="800.96" y="812.94" width="6.5" height="25.51"/>
<rect class="up" x="809.06" y="818.32" width="6.5" height="20.13"/>
<rect class="up" x="817.16" y="811.69" width="6.5" height="26.76"/>
<rect class="up" x="825.26" y="812.48" width="6.5" height="25.97"/>
<rect class="up" x="833.37" y="804.65" width="6.5" height="33.80"/>
<rect class="up" x="841.47" y="807.26" width="6.5" height="31.19"/>
<rect class="up" x="849.57" y="799.44" width="6.5" height="39.01"/>
<rect class="up" x="857.67" y="802.03" width="6.5" height="36.42"/>
<rect class="up" x="865.77" y="807.61" width="6.5" height="30.84"/>
<rect class="up" x="873.88" y="805.81" width="6.5" height="32.64"/>
<rect class="up" x="881.98" y="812.34" width="6.5" height="26.11"/>
<rect class="up" x="890.08" y="807.35" width="6.5" height="31.10"/>
<rect class="up" x="898.18" y="814.47" width="6.5" height="23.98"/>
<rect class="up" x="906.28" y="818.66" width="6.5" height="19.79"/>
<rect class="up" x="914.39" y="822.60" width="6.5" height="15.85"/>
<rect class="up" x="922.49" y="814.84" width="6.5" height="23.61"/>
<rect class="up" x="930.59" y="821.72" width="6.5" height="16.73"/>
<rect class="up" x="938.69" y="827.42" width="6.5" height="11.03"/>
<rect class="up" x="946.79" y="827.74" width="6.5" height="10.71"/>
<rect class="up" x="954.90" y="830.76" width="6.5" height="7.69"/>
<rect class="up" x="963.00" y="824.56" width="6.5" height="13.89"/>
<rect class="up" x="971.10" y="834.96" width="6.5" height="3.49"/>
<rect class="dn" x="979.20" y="838.45" width="6.5" height="7.66"/>
<rect class="dn" x="987.30" y="838.45" width="6.5" height="4.40"/>
<rect class="up" x="995.41" y="837.41" width="6.5" height="1.04"/>
<rect class="dn" x="1003.51" y="838.45" width="6.5" height="5.35"/>
<rect class="dn" x="1011.61" y="838.45" width="6.5" height="6.96"/>
<rect class="dn" x="1019.71" y="838.45" width="6.5" height="2.52"/>
<rect class="up" x="1027.81" y="838.31" width="6.5" height="0.14"/>
<rect class="dn" x="1035.92" y="838.45" width="6.5" height="3.32"/>
<rect class="dn" x="1044.02" y="838.45" width="6.5" height="3.37"/>
<rect class="up" x="1052.12" y="834.02" width="6.5" height="4.43"/>
<rect class="up" x="1060.22" y="823.91" width="6.5" height="14.54"/>
<rect class="up" x="1068.32" y="824.15" width="6.5" height="14.30"/>
<rect class="up" x="1076.43" y="824.25" width="6.5" height="14.20"/>
<rect class="up" x="1084.53" y="820.19" width="6.5" height="18.26"/>
<rect class="up" x="1092.63" y="817.81" width="6.5" height="20.64"/>
<rect class="up" x="1100.73" y="813.20" width="6.5" height="25.25"/>
<rect class="up" x="1108.83" y="819.20" width="6.5" height="19.25"/>
<rect class="up" x="1116.94" y="810.31" width="6.5" height="28.14"/>
<rect class="up" x="1125.04" y="812.44" width="6.5" height="26.01"/>
<rect class="up" x="1133.14" y="815.45" width="6.5" height="23.00"/>
<rect class="up" x="1141.24" y="816.18" width="6.5" height="22.27"/>
<rect class="up" x="1149.34" y="814.90" width="6.5" height="23.55"/>
<rect class="up" x="1157.45" y="814.63" width="6.5" height="23.82"/>
<rect class="up" x="1165.55" y="807.95" width="6.5" height="30.50"/>
<rect class="up" x="1173.65" y="804.75" width="6.5" height="33.70"/>
<rect class="up" x="1181.75" y="806.37" width="6.5" height="32.08"/>
<rect class="up" x="1189.85" y="807.33" width="6.5" height="31.12"/>
<rect class="up" x="1197.96" y="816.46" width="6.5" height="21.99"/>
<rect class="up" x="1206.06" y="823.91" width="6.5" height="14.54"/>
<rect class="up" x="1214.16" y="820.05" width="6.5" height="18.40"/>
<rect class="up" x="1222.26" y="818.12" width="6.5" height="20.33"/>
<rect class="up" x="1230.36" y="824.98" width="6.5" height="13.47"/>
<rect class="up" x="1238.47" y="826.20" width="6.5" height="12.25"/>
<rect class="up" x="1246.57" y="831.73" width="6.5" height="6.72"/>
<rect class="dn" x="1254.67" y="838.45" width="6.5" height="7.87"/>
<rect class="dn" x="1262.77" y="838.45" width="6.5" height="7.12"/>
<rect class="dn" x="1270.87" y="838.45" width="6.5" height="0.69"/>
<rect class="up" x="1278.98" y="838.34" width="6.5" height="0.11"/>
<rect class="up" x="1287.08" y="829.44" width="6.5" height="9.01"/>
<rect class="up" x="1295.18" y="828.68" width="6.5" height="9.77"/>
<rect class="up" x="1303.28" y="827.52" width="6.5" height="10.93"/>
<rect class="up" x="1311.38" y="827.52" width="6.5" height="10.93"/>
<rect class="up" x="1319.49" y="828.15" width="6.5" height="10.30"/>
<rect class="up" x="1327.59" y="824.12" width="6.5" height="14.33"/>
<rect class="up" x="1335.69" y="814.45" width="6.5" height="24.00"/>
<rect class="up" x="1343.79" y="813.51" width="6.5" height="24.94"/>
<rect class="up" x="1351.89" y="812.67" width="6.5" height="25.78"/>
<rect class="up" x="1360.00" y="808.24" width="6.5" height="30.21"/>
<rect class="up" x="1368.10" y="817.73" width="6.5" height="20.72"/>
<rect class="up" x="1376.20" y="819.29" width="6.5" height="19.16"/>
<line class="z" x1="152.0" x2="1383.0" y1="838.45" y2="838.45"/>
<rect x="1401" y="784.2" width="196.5" height="105.6" fill="#fff" stroke="#5f5f5f" stroke-width="1"/>
<text class="st" x="1498.8" y="806.8">Maximum: 17.6%</text>
<text class="st" x="1498.8" y="831.1">Minimum: (4.1%)</text>
<text class="st" x="1498.8" y="855.4">Average: 6.9%</text>
<text class="st" x="1498.8" y="879.7">Std dev: 5.1%</text>
<rect x="2.1" y="954.7" width="53" height="242.5" fill="#2cacff"/>
<rect x="6.1" y="958.8" width="44.9" height="234.3" fill="#fff"/>
<rect x="49.9" y="959.7" width="1.1" height="232.5" fill="#8fdcae"/>
<rect x="7" y="959.9" width="41.8" height="232.3" fill="#f9fafc"/>
<text class="pl" transform="translate(38.2 1075.5) rotate(-90) scale(1 1.07)">20 Years</text>
<line class="g" x1="152.0" x2="1383.5" y1="962.5" y2="962.5"/>
<text class="yl" transform="translate(133.45 967.00) scale(0.993 1)">60.0%</text>
<line class="g" x1="152.0" x2="1383.5" y1="985.5" y2="985.5"/>
<text class="yl" transform="translate(133.45 990.00) scale(0.993 1)">50.0%</text>
<line class="g" x1="152.0" x2="1383.5" y1="1007.1" y2="1007.1"/>
<text class="yl" transform="translate(133.45 1011.60) scale(0.993 1)">40.0%</text>
<line class="g" x1="152.0" x2="1383.5" y1="1028.6" y2="1028.6"/>
<text class="yl" transform="translate(133.45 1033.10) scale(0.993 1)">30.0%</text>
<line class="g" x1="152.0" x2="1383.5" y1="1050.5" y2="1050.5"/>
<text class="yl" transform="translate(133.45 1055.00) scale(0.993 1)">20.0%</text>
<line class="g" x1="152.0" x2="1383.5" y1="1073.5" y2="1073.5"/>
<text class="yl" transform="translate(133.45 1078.00) scale(0.993 1)">10.0%</text>
<text class="yl" transform="translate(133.45 1100.10) scale(0.993 1)">0.0%</text>
<line class="g" x1="152.0" x2="1383.5" y1="1116.9" y2="1116.9"/>
<text class="yl" transform="translate(138.7 1121.40) scale(0.993 1)">(10.0%)</text>
<line class="g" x1="152.0" x2="1383.5" y1="1139.5" y2="1139.5"/>
<text class="yl" transform="translate(138.7 1144.00) scale(0.993 1)">(20.0%)</text>
<line class="g" x1="152.0" x2="1383.5" y1="1161.3" y2="1161.3"/>
<text class="yl" transform="translate(138.7 1165.80) scale(0.993 1)">(30.0%)</text>
<line class="g" x1="152.0" x2="1383.5" y1="1183.2" y2="1183.2"/>
<text class="yl" transform="translate(138.7 1187.70) scale(0.993 1)">(40.0%)</text>
<rect class="up" x="306.74" y="1075.60" width="6.5" height="19.85"/>
<rect class="up" x="314.84" y="1076.22" width="6.5" height="19.23"/>
<rect class="up" x="322.94" y="1077.28" width="6.5" height="18.17"/>
<rect class="up" x="331.04" y="1077.96" width="6.5" height="17.49"/>
<rect class="up" x="339.15" y="1078.69" width="6.5" height="16.76"/>
<rect class="up" x="347.25" y="1076.47" width="6.5" height="18.98"/>
<rect class="up" x="355.35" y="1076.50" width="6.5" height="18.95"/>
<rect class="up" x="363.45" y="1077.31" width="6.5" height="18.14"/>
<rect class="up" x="371.55" y="1080.70" width="6.5" height="14.75"/>
<rect class="up" x="379.66" y="1080.98" width="6.5" height="14.47"/>
<rect class="up" x="387.76" y="1079.42" width="6.5" height="16.03"/>
<rect class="up" x="395.86" y="1080.11" width="6.5" height="15.34"/>
<rect class="up" x="403.96" y="1081.76" width="6.5" height="13.69"/>
<rect class="up" x="412.06" y="1078.75" width="6.5" height="16.70"/>
<rect class="up" x="420.17" y="1079.62" width="6.5" height="15.83"/>
<rect class="up" x="428.27" y="1081.47" width="6.5" height="13.98"/>
<rect class="up" x="436.37" y="1084.36" width="6.5" height="11.09"/>
<rect class="up" x="444.47" y="1080.64" width="6.5" height="14.81"/>
<rect class="up" x="452.57" y="1081.37" width="6.5" height="14.08"/>
<rect class="up" x="460.68" y="1080.03" width="6.5" height="15.42"/>
<rect class="up" x="468.78" y="1082.12" width="6.5" height="13.33"/>
<rect class="up" x="476.88" y="1082.66" width="6.5" height="12.79"/>
<rect class="up" x="484.98" y="1083.05" width="6.5" height="12.40"/>
<rect class="up" x="493.08" y="1084.59" width="6.5" height="10.86"/>
<rect class="up" x="501.19" y="1081.50" width="6.5" height="13.95"/>
<rect class="up" x="509.29" y="1081.52" width="6.5" height="13.93"/>
<rect class="up" x="517.39" y="1089.16" width="6.5" height="6.29"/>
<rect class="up" x="525.49" y="1090.88" width="6.5" height="4.57"/>
<rect class="up" x="533.59" y="1089.72" width="6.5" height="5.73"/>
<rect class="up" x="541.70" y="1094.57" width="6.5" height="0.88"/>
<rect class="up" x="549.80" y="1093.23" width="6.5" height="2.22"/>
<rect class="up" x="557.90" y="1090.11" width="6.5" height="5.34"/>
<rect class="up" x="566.00" y="1089.04" width="6.5" height="6.41"/>
<rect class="up" x="574.10" y="1089.01" width="6.5" height="6.44"/>
<rect class="up" x="582.21" y="1088.50" width="6.5" height="6.95"/>
<rect class="up" x="590.31" y="1087.06" width="6.5" height="8.39"/>
<rect class="up" x="598.41" y="1079.45" width="6.5" height="16.00"/>
<rect class="up" x="606.51" y="1079.49" width="6.5" height="15.96"/>
<rect class="up" x="614.61" y="1080.88" width="6.5" height="14.57"/>
<rect class="up" x="622.72" y="1083.26" width="6.5" height="12.19"/>
<rect class="up" x="630.82" y="1089.10" width="6.5" height="6.35"/>
<rect class="up" x="638.92" y="1089.10" width="6.5" height="6.35"/>
<rect class="up" x="647.02" y="1083.48" width="6.5" height="11.97"/>
<rect class="up" x="655.12" y="1083.48" width="6.5" height="11.97"/>
<rect class="up" x="663.23" y="1082.64" width="6.5" height="12.81"/>
<rect class="up" x="671.33" y="1078.23" width="6.5" height="17.22"/>
<rect class="up" x="679.43" y="1077.70" width="6.5" height="17.75"/>
<rect class="up" x="687.53" y="1075.46" width="6.5" height="19.99"/>
<rect class="up" x="695.63" y="1075.82" width="6.5" height="19.63"/>
<rect class="up" x="703.74" y="1074.35" width="6.5" height="21.10"/>
<rect class="up" x="711.84" y="1079.81" width="6.5" height="15.64"/>
<rect class="up" x="719.94" y="1082.05" width="6.5" height="13.40"/>
<rect class="up" x="728.04" y="1080.33" width="6.5" height="15.12"/>
<rect class="up" x="736.14" y="1080.55" width="6.5" height="14.90"/>
<rect class="up" x="744.25" y="1080.29" width="6.5" height="15.16"/>
<rect class="up" x="752.35" y="1084.25" width="6.5" height="11.20"/>
<rect class="up" x="760.45" y="1088.45" width="6.5" height="7.00"/>
<rect class="up" x="768.55" y="1091.83" width="6.5" height="3.62"/>
<rect class="up" x="776.65" y="1089.39" width="6.5" height="6.06"/>
<rect class="up" x="784.75" y="1084.56" width="6.5" height="10.89"/>
<rect class="up" x="792.86" y="1077.62" width="6.5" height="17.83"/>
<rect class="up" x="800.96" y="1075.74" width="6.5" height="19.71"/>
<rect class="up" x="809.06" y="1080.98" width="6.5" height="14.47"/>
<rect class="up" x="817.16" y="1075.46" width="6.5" height="19.99"/>
<rect class="up" x="825.26" y="1076.52" width="6.5" height="18.93"/>
<rect class="up" x="833.37" y="1079.61" width="6.5" height="15.84"/>
<rect class="up" x="841.47" y="1076.45" width="6.5" height="19.00"/>
<rect class="up" x="849.57" y="1075.13" width="6.5" height="20.32"/>
<rect class="up" x="857.67" y="1074.20" width="6.5" height="21.25"/>
<rect class="up" x="865.77" y="1072.95" width="6.5" height="22.50"/>
<rect class="up" x="873.88" y="1067.63" width="6.5" height="27.82"/>
<rect class="up" x="881.98" y="1069.77" width="6.5" height="25.68"/>
<rect class="up" x="890.08" y="1070.02" width="6.5" height="25.43"/>
<rect class="up" x="898.18" y="1070.21" width="6.5" height="25.24"/>
<rect class="up" x="906.28" y="1072.70" width="6.5" height="22.75"/>
<rect class="up" x="914.39" y="1071.23" width="6.5" height="24.22"/>
<rect class="up" x="922.49" y="1068.54" width="6.5" height="26.91"/>
<rect class="up" x="930.59" y="1068.28" width="6.5" height="27.17"/>
<rect class="up" x="938.69" y="1072.17" width="6.5" height="23.28"/>
<rect class="up" x="946.79" y="1074.99" width="6.5" height="20.46"/>
<rect class="up" x="954.90" y="1075.71" width="6.5" height="19.74"/>
<rect class="up" x="963.00" y="1075.97" width="6.5" height="19.48"/>
<rect class="up" x="971.10" y="1078.64" width="6.5" height="16.81"/>
<rect class="up" x="979.20" y="1088.47" width="6.5" height="6.98"/>
<rect class="up" x="987.30" y="1088.69" width="6.5" height="6.76"/>
<rect class="up" x="995.41" y="1087.17" width="6.5" height="8.28"/>
<rect class="up" x="1003.51" y="1087.17" width="6.5" height="8.28"/>
<rect class="up" x="1011.61" y="1091.24" width="6.5" height="4.21"/>
<rect class="up" x="1019.71" y="1091.88" width="6.5" height="3.57"/>
<rect class="up" x="1027.81" y="1090.12" width="6.5" height="5.33"/>
<rect class="up" x="1035.92" y="1094.14" width="6.5" height="1.31"/>
<rect class="up" x="1044.02" y="1091.27" width="6.5" height="4.18"/>
<rect class="up" x="1052.12" y="1091.51" width="6.5" height="3.94"/>
<rect class="up" x="1060.22" y="1092.88" width="6.5" height="2.57"/>
<rect class="up" x="1068.32" y="1091.29" width="6.5" height="4.16"/>
<rect class="up" x="1076.43" y="1087.96" width="6.5" height="7.49"/>
<rect class="up" x="1084.53" y="1089.99" width="6.5" height="5.46"/>
<rect class="up" x="1092.63" y="1089.41" width="6.5" height="6.04"/>
<rect class="up" x="1100.73" y="1085.14" width="6.5" height="10.31"/>
<rect class="up" x="1108.83" y="1086.00" width="6.5" height="9.45"/>
<rect class="up" x="1116.94" y="1084.45" width="6.5" height="11.00"/>
<rect class="up" x="1125.04" y="1085.54" width="6.5" height="9.91"/>
<rect class="up" x="1133.14" y="1081.98" width="6.5" height="13.47"/>
<rect class="up" x="1141.24" y="1077.17" width="6.5" height="18.28"/>
<rect class="up" x="1149.34" y="1076.66" width="6.5" height="18.79"/>
<rect class="up" x="1157.45" y="1076.58" width="6.5" height="18.87"/>
<rect class="up" x="1165.55" y="1071.61" width="6.5" height="23.84"/>
<rect class="up" x="1173.65" y="1067.84" width="6.5" height="27.61"/>
<rect class="up" x="1181.75" y="1066.95" width="6.5" height="28.50"/>
<rect class="up" x="1189.85" y="1070.46" width="6.5" height="24.99"/>
<rect class="up" x="1197.96" y="1070.53" width="6.5" height="24.92"/>
<rect class="up" x="1206.06" y="1075.66" width="6.5" height="19.79"/>
<rect class="up" x="1214.16" y="1074.86" width="6.5" height="20.59"/>
<rect class="up" x="1222.26" y="1074.26" width="6.5" height="21.19"/>
<rect class="up" x="1230.36" y="1076.42" width="6.5" height="19.03"/>
<rect class="up" x="1238.47" y="1077.57" width="6.5" height="17.88"/>
<rect class="up" x="1246.57" y="1077.57" width="6.5" height="17.88"/>
<rect class="up" x="1254.67" y="1084.24" width="6.5" height="11.21"/>
<rect class="up" x="1262.77" y="1084.45" width="6.5" height="11.00"/>
<rect class="up" x="1270.87" y="1082.02" width="6.5" height="13.43"/>
<rect class="up" x="1278.98" y="1084.71" width="6.5" height="10.74"/>
<rect class="up" x="1287.08" y="1083.75" width="6.5" height="11.70"/>
<rect class="up" x="1295.18" y="1081.47" width="6.5" height="13.98"/>
<rect class="up" x="1303.28" y="1079.94" width="6.5" height="15.51"/>
<rect class="up" x="1311.38" y="1082.65" width="6.5" height="12.80"/>
<rect class="up" x="1319.49" y="1083.35" width="6.5" height="12.10"/>
<rect class="up" x="1327.59" y="1085.34" width="6.5" height="10.11"/>
<rect class="up" x="1335.69" y="1088.69" width="6.5" height="6.76"/>
<rect class="up" x="1343.79" y="1087.73" width="6.5" height="7.72"/>
<rect class="up" x="1351.89" y="1084.51" width="6.5" height="10.94"/>
<rect class="up" x="1360.00" y="1080.18" width="6.5" height="15.27"/>
<rect class="up" x="1368.10" y="1080.07" width="6.5" height="15.38"/>
<rect class="up" x="1376.20" y="1081.10" width="6.5" height="14.35"/>
<line class="z" x1="152.0" x2="1383.0" y1="1095.45" y2="1095.45"/>
<rect x="1401" y="1040.5" width="196.5" height="105.5" fill="#fff" stroke="#5f5f5f" stroke-width="1"/>
<text class="st" x="1498.8" y="1063.5">Maximum: 13.2%</text>
<text class="st" x="1498.8" y="1087.7">Minimum: 0.5%</text>
<text class="st" x="1498.8" y="1112.0">Average: 6.6%</text>
<text class="st" x="1498.8" y="1136.2">Std dev: 3.0%</text>
<text class="ft" transform="translate(15.6 1251.1) scale(1.038 1)">Data reflects real total returns (i.e., including the re-investment of dividends and adjusted for inflation)</text>
<text class="ft" transform="translate(15.6 1277.1) scale(1.038 1)">Source: Robert Shiller &amp; Yahoo Finance</text>
<rect x="1324.5" y="1207.5" width="273.2" height="60" fill="#fff" stroke="#595959" stroke-width="1"/>
<text class="cb" x="1334.7" y="1232.4">Created by:</text>
<text class="cb" x="1334.7" y="1256.4">The Measure of a Plan</text>
</svg></body></html>
